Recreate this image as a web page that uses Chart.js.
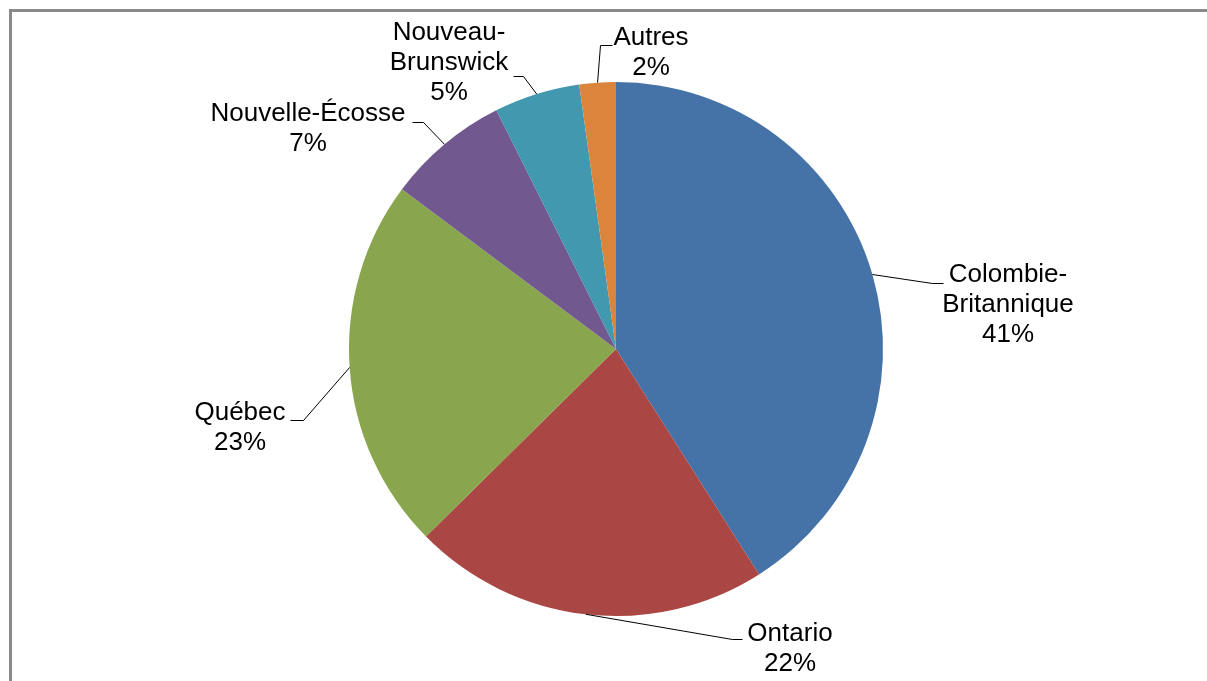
<!DOCTYPE html>
<html lang="fr">
<head>
<meta charset="utf-8">
<title>Répartition par province</title>
<script src="https://cdn.jsdelivr.net/npm/chart.js@4.4.1/dist/chart.umd.min.js"></script>
<style>
  html,body{margin:0;padding:0;background:#fff;}
  #wrap{width:1207px;height:681px;position:relative;}
</style>
</head>
<body>
<div id="wrap"><canvas id="pie" width="1207" height="681"></canvas></div>
<script>
'use strict';

// data (share of total, %)
const provinces=[['Colombie-','Britannique'],['Ontario'],['Québec'],['Nouvelle-Écosse'],['Nouveau-','Brunswick'],['Autres']];
const shares=[41.0,21.6,22.6,7.4,5.2,2.2];
const sliceColors=['#4572A7','#AA4643','#89A54E','#71588F','#4198AF','#DB843C'];

// label placement, relative to the pie centre: text block centre, elbow, end of leader
const labelLayout=[
  {tx:392,ty:-44,ex:316,ey:-66,hx:327},
  {tx:174,ty:300,ex:116,ey:290,hx:126},
  {tx:-376,ty:79,ex:-313,ey:71,hx:-326},
  {tx:-308,ty:-220,ex:-193,ey:-227,hx:-204},
  {tx:-167,ty:-286,ex:-93,ey:-273,hx:-103},
  {tx:35,ty:-296,ex:-16,ey:-304,hx:-4},
];

const FONT='26px "Liberation Sans", Arial, sans-serif';
const LINE_H=30;

const frame={
  id:'frame',
  beforeDraw(chart){
    const {ctx,width,height}=chart;
    ctx.save();
    ctx.fillStyle='#fff';ctx.fillRect(0,0,width,height);
    ctx.fillStyle='#8a8a8a';
    ctx.fillRect(9,9,width-9,3);
    ctx.fillRect(9,9,3,height-9);
    ctx.restore();
  }
};

const outsideLabels={
  id:'outsideLabels',
  afterDatasetsDraw(chart){
    const {ctx}=chart;
    const meta=chart.getDatasetMeta(0);
    const total=shares.reduce((s,v)=>s+v,0);
    ctx.save();
    ctx.font=FONT;
    ctx.textAlign='center';
    ctx.textBaseline='middle';
    meta.data.forEach((arc,i)=>{
      const L=labelLayout[i];
      const mid=(arc.startAngle+arc.endAngle)/2;
      const cx=arc.x,cy=arc.y,r=arc.outerRadius;
      ctx.strokeStyle='#000';ctx.lineWidth=1;
      ctx.beginPath();
      ctx.moveTo(cx+r*Math.cos(mid),cy+r*Math.sin(mid));
      ctx.lineTo(cx+L.ex+0.5,cy+L.ey+0.5);
      ctx.lineTo(cx+L.hx+0.5,cy+L.ey+0.5);
      ctx.stroke();
      const lines=[...provinces[i],Math.round(shares[i]/total*100)+'%'];
      const y0=cy+L.ty-(lines.length-1)*LINE_H/2;
      ctx.fillStyle='#000';
      lines.forEach((t,k)=>ctx.fillText(t,cx+L.tx,y0+k*LINE_H));
    });
    ctx.restore();
  }
};

new Chart(document.getElementById('pie'),{
  type:'pie',
  data:{
    labels:provinces,
    datasets:[{data:shares,backgroundColor:sliceColors,borderWidth:0}],
  },
  options:{
    responsive:false,
    animation:false,
    layout:{padding:{left:349,right:324,top:82,bottom:65}},
    plugins:{legend:{display:false},tooltip:{enabled:false}},
  },
  plugins:[frame,outsideLabels],
});
</script>
</body>
</html>
